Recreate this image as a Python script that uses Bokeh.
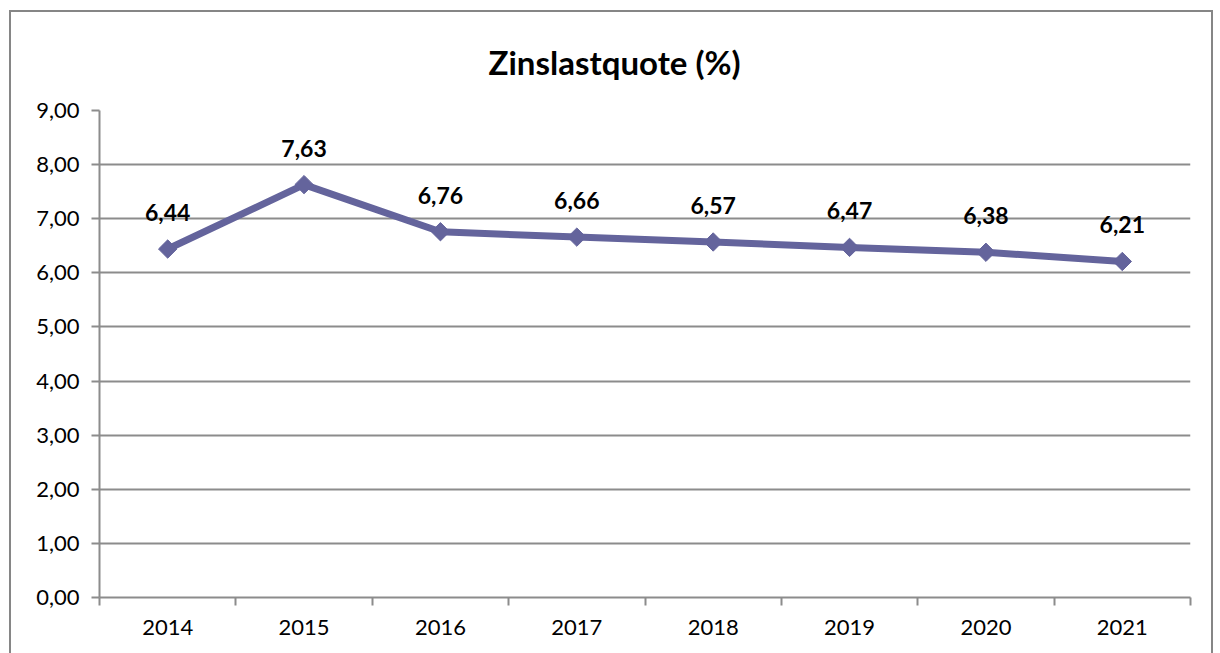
import math
from bokeh.plotting import figure
from bokeh.models import (FixedTicker, LinearAxis, Range1d, ColumnDataSource,
                          LabelSet, Title, Grid)
from bokeh.core.properties import value
from bokeh.embed import file_html
from bokeh.resources import INLINE

years = ["2014", "2015", "2016", "2017", "2018", "2019", "2020", "2021"]
values = [6.44, 7.63, 6.76, 6.66, 6.57, 6.47, 6.38, 6.21]
value_labels = ["6,44", "7,63", "6,76", "6,66", "6,57", "6,47", "6,38", "6,21"]
y_ticks = [0, 1, 2, 3, 4, 5, 6, 7, 8, 9]
y_tick_labels = ["0,00", "1,00", "2,00", "3,00", "4,00", "5,00", "6,00", "7,00", "8,00", "9,00"]
title_text = "Zinslastquote (%)"

FONT = "Lato"
LINE_COLOR = "#64649C"
GRID = "#8C8C8C"

xs = list(range(len(years)))
src = ColumnDataSource(dict(x=xs, y=values, lab=value_labels))

p = figure(width=1200, height=641, output_backend="svg", toolbar_location=None,
           x_range=Range1d(-0.5, len(years) - 0.5), y_range=Range1d(0, 9),
           frame_width=1091, frame_height=487,
           min_border_left=88, min_border_right=21, min_border_top=98, min_border_bottom=56,
           x_axis_type=None, y_axis_type=None)
p.styles = {"margin-left": "9px", "margin-top": "10px",
            "border-left": "2px solid #868686", "border-top": "2px solid #868686",
            "border-right": "2px solid #868686"}
p.outline_line_color = None
p.background_fill_color = "white"
p.border_fill_color = "white"

# y axis
yax = LinearAxis(ticker=FixedTicker(ticks=y_ticks))
yax.major_label_overrides = {t: l for t, l in zip(y_ticks, y_tick_labels)}
yax.axis_line_color = GRID
yax.axis_line_width = 2
yax.major_tick_line_color = GRID
yax.major_tick_line_width = 2
yax.major_tick_out = 8
yax.major_tick_in = 0
yax.minor_tick_line_color = None
yax.major_label_text_font = FONT
yax.major_label_text_font_size = "22px"
yax.major_label_text_color = "black"
yax.major_label_standoff = 12
p.add_layout(yax, "left")

# x axis
xax = LinearAxis(ticker=FixedTicker(ticks=xs, minor_ticks=[i - 0.5 for i in range(len(years) + 1)]))
xax.major_label_overrides = {i: y for i, y in zip(xs, years)}
xax.axis_line_color = GRID
xax.axis_line_width = 2
xax.major_tick_line_color = None
xax.major_tick_out = 0
xax.major_tick_in = 0
xax.minor_tick_line_color = GRID
xax.minor_tick_line_width = 2
xax.minor_tick_out = 8
xax.minor_tick_in = 0
xax.major_label_text_font = FONT
xax.major_label_text_font_size = "22px"
xax.major_label_text_color = "black"
xax.major_label_standoff = 14
p.add_layout(xax, "below")

p.add_layout(Grid(dimension=1, ticker=FixedTicker(ticks=y_ticks[1:]), grid_line_color=GRID,
                  grid_line_width=2))

p.line("x", "y", source=src, line_color=LINE_COLOR, line_width=7, line_join="round")
p.scatter("x", "y", source=src, marker="square", size=13, angle=math.pi / 4,
          fill_color=LINE_COLOR, line_color=LINE_COLOR, line_width=1)

labels = LabelSet(x="x", y="y", text="lab", source=src, text_font=value(FONT),
                  text_font_size="23px", text_font_style="bold", text_align="center",
                  text_baseline="alphabetic", y_offset=28, text_color="black")
p.add_layout(labels)

title = Title(text=title_text, align="left", offset=389, standoff=53, vertical_align="top",
              text_font=FONT, text_font_size="33px", text_font_style="bold",
              text_color="black")
p.add_layout(title, "above")

open("out.html", "w").write(file_html(p, INLINE))
